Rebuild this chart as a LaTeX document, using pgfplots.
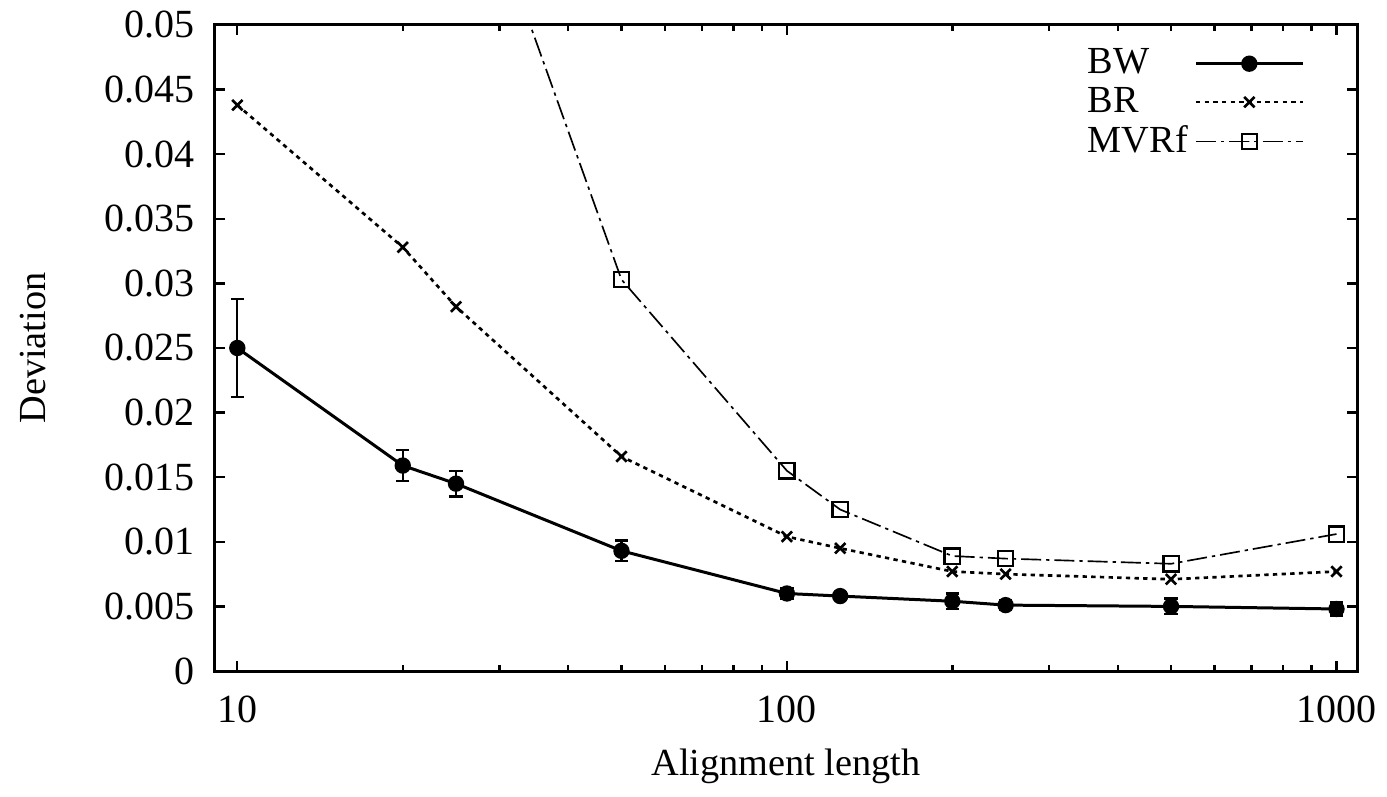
\documentclass[border=0pt]{standalone}
\usepackage{fontspec}
\setmainfont{Liberation Serif}
\usepackage{pgfplots}
\pgfplotsset{compat=1.18}
\usetikzlibrary{calc}
\begin{document}
\begin{tikzpicture}[font=\fontsize{11.5}{13.5}\selectfont]
\begin{axis}[
  scale only axis, width=343pt, height=194pt,
  xmode=log, xmin=9.1, xmax=1090, ymin=0, ymax=0.05,
  axis line style={line width=0.9pt},
  xtick={10,100,1000}, xticklabels={10,100,1000},
  ytick={0,0.005,0.01,0.015,0.02,0.025,0.03,0.035,0.04,0.045,0.05},
  yticklabels={0,0.005,0.01,0.015,0.02,0.025,0.03,0.035,0.04,0.045,0.05},
  scaled y ticks=false,
  minor y tick num=0,
  tick align=inside, major tick length=3pt, minor tick length=1.8pt,
  tick style={line width=0.7pt, black},
  tick label style={font=\fontsize{12}{14}\selectfont},
  xticklabel style={yshift=-4pt},
  yticklabel style={xshift=-2.5pt},
  /pgf/number format/assume math mode=true,
  xlabel={Alignment length}, ylabel={Deviation},
  xlabel style={at={(axis description cs:0.5,-0.148)}, anchor=center},
  ylabel style={at={(axis description cs:-0.159,0.5)}, anchor=center, rotate=0},
  legend style={draw=none, fill=none, at={(axis description cs:0.963,0.985)}, anchor=north east, row sep=-1.5pt},
  legend cell align=left,
  legend plot pos=right,
  legend image code/.code={\draw[mark repeat=2,mark phase=2,#1] plot coordinates {(0pt,0pt) (16pt,0pt) (32pt,0pt)};},
]
\addplot[black, line width=0.9pt, mark=*, mark size=2pt, mark options={solid},
  error bars/.cd, y dir=both, y explicit, error bar style={line width=0.7pt}, error mark options={line width=0.7pt, mark size=2pt, rotate=90}]
  coordinates {
  (10,0.0250) +- (0,0.0038)
  (20,0.0159) +- (0,0.0012)
  (25,0.0145) +- (0,0.0010)
  (50,0.0093) +- (0,0.0008)
  (100,0.0060) +- (0,0.0004)
  (125,0.0058) +- (0,0.0003)
  (200,0.0054) +- (0,0.0006)
  (250,0.0051) +- (0,0.0004)
  (500,0.0050) +- (0,0.0006)
  (1000,0.0048) +- (0,0.0005)
  };
\addlegendentry{BW\hspace{6pt}}
\addplot[black, line width=0.8pt, dash pattern=on 1.3pt off 1.3pt, mark=x, mark size=2.2pt, mark options={solid, line width=0.8pt}]
  coordinates {
  (10,0.0438) (20,0.0328) (25,0.0282) (50,0.0166) (100,0.0104)
  (125,0.0095) (200,0.0077) (250,0.0075) (500,0.0071) (1000,0.0077)
  };
\addlegendentry{BR\hspace{6pt}}
\addplot[black, line width=0.5pt, dash pattern=on 6pt off 1.5pt on 1pt off 1.5pt, mark=square, mark size=2.3pt, mark options={solid, line width=0.7pt}]
  coordinates {
  (25,0.066) (50,0.0303) (100,0.0155) (125,0.0125) (200,0.0089)
  (250,0.0087) (500,0.0083) (1000,0.0106)
  };
\addlegendentry{MVRf\hspace{6pt}}
\end{axis}
\pgfresetboundingbox
\path ($(current axis.south west)+(-64.5pt,-37.8pt)$) rectangle ($(current axis.north east)+(9pt,7.5pt)$);
\end{tikzpicture}
\end{document}
